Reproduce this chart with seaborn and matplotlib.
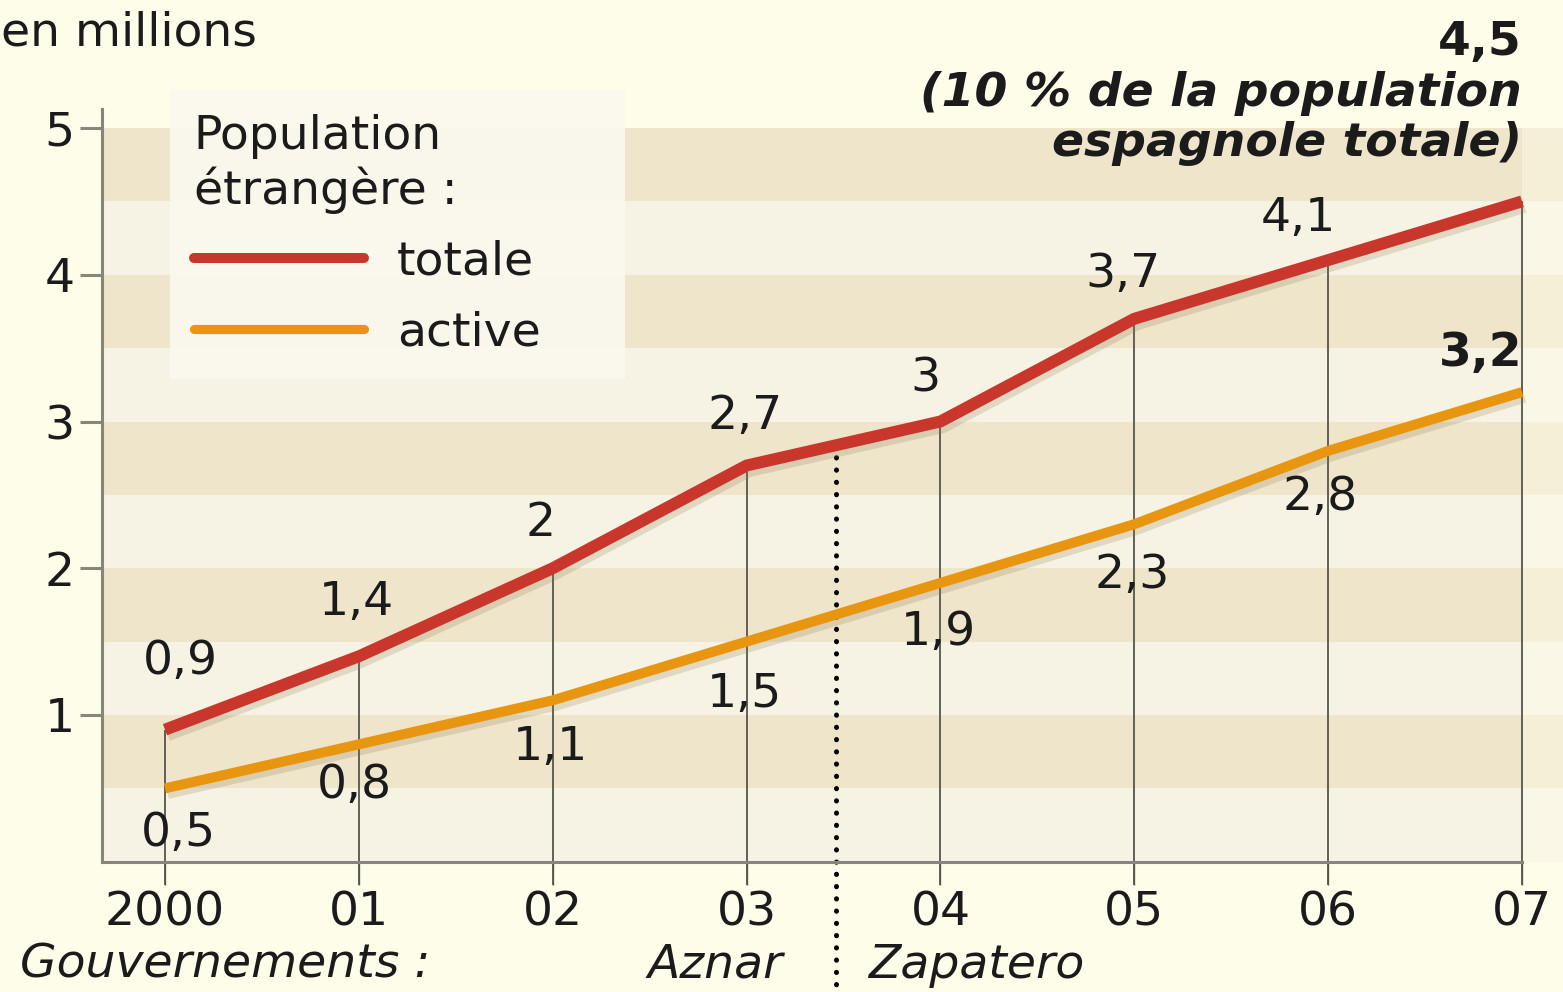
import numpy as np
import pandas as pd
import matplotlib
matplotlib.use("Agg")
import matplotlib.pyplot as plt
import matplotlib.patheffects as pe
from matplotlib.lines import Line2D
import seaborn as sns

# ---- data -------------------------------------------------------------
years = [0, 1, 2, 3, 4, 5, 6, 7]
year_labels = ["2000", "01", "02", "03", "04", "05", "06", "07"]
totale = [0.9, 1.4, 2.0, 2.7, 3.0, 3.7, 4.1, 4.5]
active = [0.5, 0.8, 1.1, 1.5, 1.9, 2.3, 2.8, 3.2]
totale_text = ["0,9", "1,4", "2", "2,7", "3", "3,7", "4,1", "4,5"]
active_text = ["0,5", "0,8", "1,1", "1,5", "1,9", "2,3", "2,8", "3,2"]
series_names = ["totale", "active"]
y_ticks = [1, 2, 3, 4, 5]
government_change = 3.46          # Aznar -> Zapatero
governments = ["Aznar", "Zapatero"]

# ---- styling ----------------------------------------------------------
BG = "#fefde9"
TAN = "#efe5cb"
LIGHT = "#f7f3e4"
RED = "#c9372c"
ORANGE = "#e8950f"
GRID = "#55554c"
SPINE = "#86867a"
INK = "#1b1b1b"
FS = 34
W, H = 1563, 992
PX_Y = 146.75                      # pixels per million
PX_X = 193.86                      # pixels per year
X0, Y0 = 165, 861.75               # pixel position of (2000, 0)
CAP = 35                           # digit height in pixels

sns.set_theme(style="white")
plt.rcParams["font.family"] = ["DejaVu Sans"]
plt.rcParams["text.color"] = INK

fig = plt.figure(figsize=(W / 100, H / 100), dpi=100, facecolor=BG)
ax_left = 102
ax = fig.add_axes([ax_left / W, 1 - Y0 / H, 1 - ax_left / W, Y0 / H])
ax.set_facecolor(BG)
x_lo = -(X0 - ax_left) / PX_X
x_hi = 7 + (W - (X0 + 7 * PX_X)) / PX_X
ax.set_xlim(x_lo, x_hi)
ax.set_ylim(0, Y0 / PX_Y)

# alternating horizontal bands
for k in range(10):
    lo = k * 0.5
    ax.axhspan(lo, lo + 0.5, color=TAN if k % 2 else LIGHT, lw=0, zorder=0)
ax.fill_between([7, x_hi], 0, 5, color=BG, alpha=0.45, lw=0, zorder=0.5)

# drop lines from each total value
ax.vlines(years, -0.157, totale, color=GRID, lw=1.3, zorder=1, clip_on=False)

# dotted separator between governments
y_sep = np.interp(government_change, years, totale)
ax.plot([government_change, government_change], [y_sep, -1.0], color="black",
        lw=3.6, ls=(0, (0.05, 2.4)), dash_capstyle="round", clip_on=False, zorder=2)

# the two series
df = pd.DataFrame({
    "année": years * 2,
    "valeur": totale + active,
    "série": ["totale"] * len(years) + ["active"] * len(years),
})
sns.lineplot(data=df, x="année", y="valeur", hue="série", hue_order=series_names,
             palette={"totale": RED, "active": ORANGE}, ax=ax, legend=False,
             zorder=3)
shadow = [pe.SimpleLineShadow(offset=(2, -4), shadow_color="#8a7a50", alpha=0.22),
          pe.Normal()]
for line, lw in zip(ax.lines[-2:], [8.6, 7.2]):
    line.set_linewidth(lw)
    line.set_solid_capstyle("butt")
    line.set_solid_joinstyle("miter")
    line.set_path_effects(shadow)

# value labels
tot_off = [(15, 73), (-2, 59), (-12, 50), (-2, 54), (-15, 48), (-11, 49), (-30, 47)]
act_off = [(13, -40), (-4, -36), (-2, -42), (-2, -48), (-2, -45), (-2, -46), (-8, -42)]
for x, v, t, (dx, dy) in zip(years[:-1], totale[:-1], totale_text[:-1], tot_off):
    ax.annotate(t, (x, v), xytext=(dx, dy - CAP / 2), textcoords="offset pixels",
                ha="center", va="baseline", fontsize=FS, zorder=5)
for x, v, t, (dx, dy) in zip(years[:-1], active[:-1], active_text[:-1], act_off):
    ax.annotate(t, (x, v), xytext=(dx, dy - CAP / 2), textcoords="offset pixels",
                ha="center", va="baseline", fontsize=FS, zorder=5)

ax.annotate(active_text[-1], (years[-1], active[-1]), xytext=(0, 44 - CAP / 2),
            textcoords="offset pixels", ha="right", va="baseline", fontsize=FS,
            fontweight="bold", zorder=5)
ax.annotate(totale_text[-1], (years[-1], totale[-1]), xytext=(0, 164 - CAP / 2),
            textcoords="offset pixels", ha="right", va="baseline", fontsize=FS,
            fontweight="bold", annotation_clip=False, zorder=5)
ax.annotate("(10 % de la population", (years[-1], totale[-1]),
            xytext=(0, 113 - CAP / 2), textcoords="offset pixels", ha="right",
            va="baseline", fontsize=FS, fontweight="bold", fontstyle="italic",
            annotation_clip=False, zorder=5)
ax.annotate("espagnole totale)", (years[-1], totale[-1]),
            xytext=(0, 63 - CAP / 2), textcoords="offset pixels", ha="right",
            va="baseline", fontsize=FS, fontweight="bold", fontstyle="italic",
            annotation_clip=False, zorder=5)

# axes, ticks
for s in ["top", "right"]:
    ax.spines[s].set_visible(False)
for s in ["left", "bottom"]:
    ax.spines[s].set_color(SPINE)
    ax.spines[s].set_linewidth(2.2)
    ax.spines[s].set_zorder(4)
ax.spines["left"].set_bounds(0, 5.13)
ax.spines["bottom"].set_bounds(x_lo, 7)

ax.set_yticks(y_ticks)
ax.set_yticklabels([str(t) for t in y_ticks])
ax.tick_params(axis="y", length=16, width=2.2, color=SPINE, pad=3.5,
               labelsize=FS, labelcolor=INK, left=True)
ax.set_xticks(years)
ax.set_xticklabels(year_labels)
ax.tick_params(axis="x", length=16.5, width=0.95, color=GRID, pad=4,
               labelsize=FS, labelcolor=INK, bottom=True)
ax.set_xlabel("")
ax.set_ylabel("")

# legend, stretched to a fixed-width panel
handles = [Line2D([], [], color=RED, lw=7.2), Line2D([], [], color=ORANGE, lw=6.6)]
leg = ax.legend(handles, series_names, title="Population\nétrangère :",
                loc="upper left", mode="expand",
                bbox_to_anchor=(170 / W, 1 - 370 / H, 455 / W, 280 / H),
                bbox_transform=fig.transFigure, borderaxespad=0,
                fontsize=FS, title_fontsize=FS,
                handlelength=3.6, handletextpad=0.7, labelspacing=0.55,
                borderpad=0.5, alignment="left", frameon=True, fancybox=False)
leg.get_frame().set_facecolor("#fbf8ef")
leg.get_frame().set_alpha(0.9)
leg.get_frame().set_edgecolor("none")
leg.set_zorder(6)

# unit and government captions
fig.text(1 / W, 1 - 45 / H, "en millions", fontsize=FS, ha="left", va="baseline")
fig.text(20 / W, 1 - 978 / H, "Gouvernements :", fontsize=FS, fontstyle="italic",
         ha="left", va="baseline")
ax.annotate(governments[0], (government_change, 0), xytext=(-53, -116),
            textcoords="offset pixels", ha="right", va="baseline", fontsize=FS,
            fontstyle="italic", annotation_clip=False)
ax.annotate(governments[1], (government_change, 0), xytext=(32, -116),
            textcoords="offset pixels", ha="left", va="baseline", fontsize=FS,
            fontstyle="italic", annotation_clip=False)

fig.savefig("out.png", dpi=100, facecolor=BG)
